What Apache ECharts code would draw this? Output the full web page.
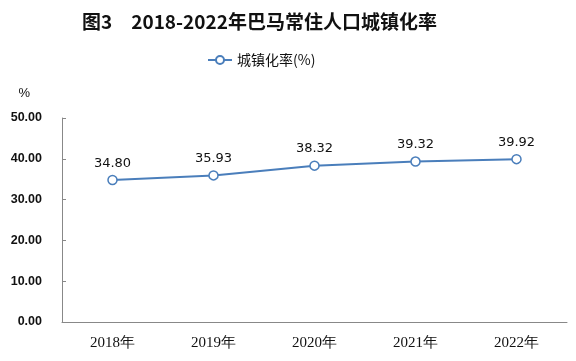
<!DOCTYPE html>
<html><head><meta charset="utf-8">
<script src="https://cdn.jsdelivr.net/npm/echarts@6/dist/echarts.min.js"></script>
<style>html,body{margin:0;padding:0;background:#fff}#c{width:576px;height:361px}</style>
</head><body><div id="c"></div>
<script>
const categories = ['2018年','2019年','2020年','2021年','2022年'];
const rateValues = [34.80, 35.93, 38.32, 39.32, 39.92];
const seriesName = '城镇化率(%)';
const chart = echarts.init(document.getElementById('c'), null, {renderer:'canvas'});
chart.setOption({
  animation:false,
  backgroundColor:'#fff',
  title:{text:'图3　2018-2022年巴马常住人口城镇化率',left:77,top:7,
    textStyle:{fontFamily:'Noto Sans CJK SC',fontSize:19,fontWeight:'bold',color:'#111'}},
  legend:{data:[seriesName],left:202,top:48,itemWidth:24,itemHeight:10,itemGap:4,
    textStyle:{fontFamily:'Noto Sans CJK SC',fontSize:14,color:'#111'}},
  grid:{left:62,right:9,top:118,bottom:39},
  xAxis:{type:'category',data:categories,
    axisLine:{lineStyle:{color:'#888',width:1}},
    axisTick:{inside:true,length:5,lineStyle:{color:'#888'}},
    axisLabel:{fontFamily:'Liberation Serif',fontSize:15,color:'#111',margin:14}},
  yAxis:{type:'value',min:0,max:50,interval:10,name:'%',
    nameLocation:'end',nameGap:18,
    nameTextStyle:{fontFamily:'Liberation Sans',fontSize:13,color:'#111',align:'right',padding:[0,32,0,0]},
    axisLine:{show:true,lineStyle:{color:'#888',width:1}},
    axisTick:{show:true,inside:true,length:4,lineStyle:{color:'#888'}},
    splitLine:{show:false},
    axisLabel:{formatter:v=>v.toFixed(2),fontFamily:'Liberation Sans',fontWeight:'bold',fontSize:12.5,color:'#111',margin:20}},
  series:[{name:seriesName,type:'line',data:rateValues,
    symbol:'circle',symbolSize:9,
    lineStyle:{color:'#4a7ebb',width:2},
    itemStyle:{color:'#fff',borderColor:'#4a7ebb',borderWidth:1.5},
    label:{show:true,position:'top',distance:5,formatter:p=>p.value.toFixed(2),
      fontFamily:'DejaVu Sans',fontSize:13,color:'#111'}}]
});
</script></body></html>
